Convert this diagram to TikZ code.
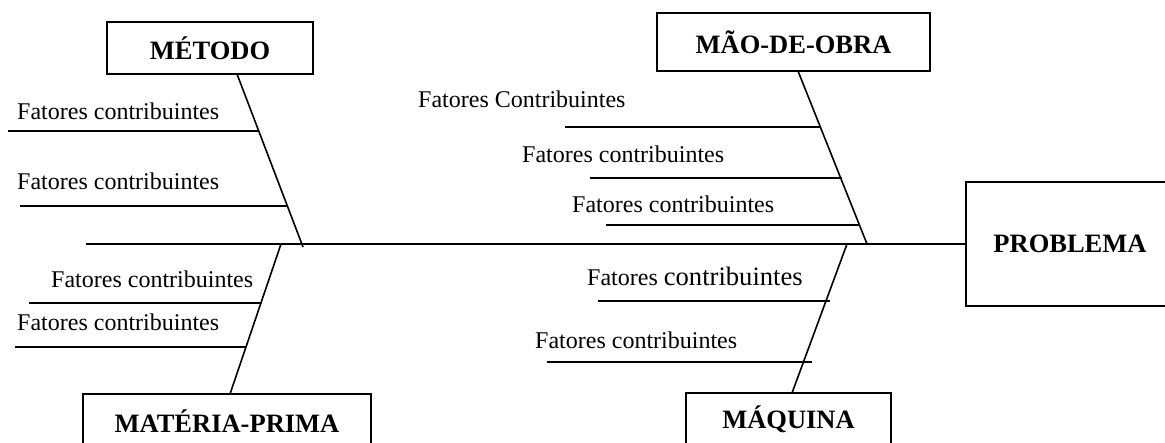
\documentclass[tikz,border=0pt]{standalone}
\usepackage{fontspec}
\setmainfont{Liberation Serif}
\begin{document}
\begin{tikzpicture}[x=1pt,y=-1pt,
  ln/.style={line width=1.6pt},
  cat/.style={draw,line width=1.6pt,inner sep=0pt,font=\fontsize{26.5}{30}\selectfont\bfseries},
  fac/.style={anchor=base west,inner sep=0pt,font=\fontsize{24}{28}\selectfont}]
\useasboundingbox (0,0) rectangle (1165,442);
% category boxes
\node[cat,minimum width=206pt,minimum height=52pt] (metodo) at (210,48) {MÉTODO};
\node[cat,minimum width=273pt,minimum height=58pt] (mao) at (793.5,42) {MÃO-DE-OBRA};
\node[cat,minimum width=208pt,minimum height=124pt] (prob) at (1070,244) {PROBLEMA};
\node[cat,minimum width=288pt,minimum height=55pt] (mat) at (227,421.5) {MATÉRIA-PRIMA};
\node[cat,minimum width=205pt,minimum height=53pt] (maq) at (788.5,419.5) {MÁQUINA};
% main spine
\coordinate (tail) at (86,244);
\draw[ln] (tail) -- (prob.west);
% bone ends
\coordinate (mtop) at (237,74);   \coordinate (mbot) at (303,247);
\coordinate (otop) at (798,71);   \coordinate (obot) at (867,244);
\coordinate (ptop) at (281,244);  \coordinate (pbot) at (230,394);
\coordinate (qtop) at (847,244);  \coordinate (qbot) at (792,393);
\draw[ln] (mtop) -- (mbot);
\draw[ln] (otop) -- (obot);
\draw[ln] (ptop) -- (pbot);
\draw[ln] (qtop) -- (qbot);
% branches: METODO
\coordinate (m1a) at (8,131);  \coordinate (m1b) at (259,131);
\coordinate (m2a) at (20,206); \coordinate (m2b) at (287,206);
\draw[ln] (m1a) -- (m1b);
\draw[ln] (m2a) -- (m2b);
\node[fac] (tm1) at (17,119) {Fatores contribuintes};
\node[fac] (tm2) at (17,189) {Fatores contribuintes};
% branches: MAO-DE-OBRA
\coordinate (o1a) at (565,127); \coordinate (o1b) at (820,127);
\coordinate (o2a) at (590,178); \coordinate (o2b) at (842,178);
\coordinate (o3a) at (606,225); \coordinate (o3b) at (859,225);
\draw[ln] (o1a) -- (o1b);
\draw[ln] (o2a) -- (o2b);
\draw[ln] (o3a) -- (o3b);
\node[fac] (to1) at (418,107) {Fatores Contribuintes};
\node[fac] (to2) at (522,162) {Fatores contribuintes};
\node[fac] (to3) at (572,212) {Fatores contribuintes};
% branches: MATERIA-PRIMA
\coordinate (p1a) at (29,303); \coordinate (p1b) at (261,303);
\coordinate (p2a) at (15,347); \coordinate (p2b) at (246,347);
\draw[ln] (p1a) -- (p1b);
\draw[ln] (p2a) -- (p2b);
\node[fac] (tp1) at (51,287) {Fatores contribuintes};
\node[fac] (tp2) at (17,330) {Fatores contribuintes};
% branches: MAQUINA
\coordinate (q1a) at (598,301); \coordinate (q1b) at (830,301);
\coordinate (q2a) at (547,362); \coordinate (q2b) at (812,362);
\draw[ln] (q1a) -- (q1b);
\draw[ln] (q2a) -- (q2b);
\node[fac] (tq1) at (587,285) {Fatores {\fontsize{26.6}{30}\selectfont contribuintes}};
\node[fac] (tq2) at (535,348) {Fatores contribuintes};
\end{tikzpicture}
\end{document}
